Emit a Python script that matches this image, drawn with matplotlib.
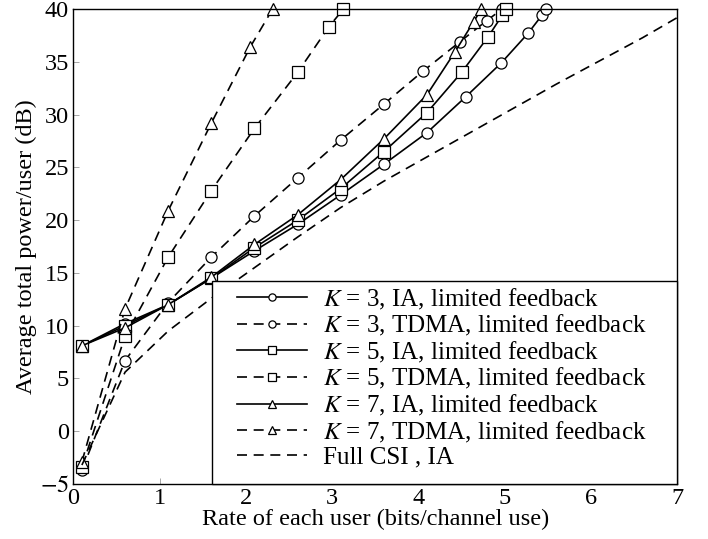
import matplotlib.pyplot as plt
from matplotlib.patches import Rectangle

plt.rcParams['font.family'] = ['Liberation Serif', 'DejaVu Serif']
plt.rcParams['mathtext.fontset'] = 'stix'

# IA with limited feedback
k3_ia_x = [0.1, 0.6, 1.1, 1.6, 2.1, 2.6, 3.1, 3.6, 4.1, 4.55, 4.96, 5.27, 5.43, 5.48]
k3_ia_y = [8.1, 10.2, 12.0, 14.5, 17.1, 19.6, 22.4, 25.3, 28.3, 31.7, 34.9, 37.7, 39.4, 40.0]
k5_ia_x = [0.1, 0.6, 1.1, 1.6, 2.1, 2.6, 3.1, 3.6, 4.1, 4.5, 4.81, 4.97, 5.01]
k5_ia_y = [8.1, 10.0, 12.0, 14.5, 17.4, 20.0, 23.0, 26.5, 30.2, 34.0, 37.4, 39.4, 40.0]
k7_ia_x = [0.1, 0.6, 1.1, 1.6, 2.1, 2.6, 3.1, 3.6, 4.1, 4.42, 4.64, 4.73]
k7_ia_y = [8.1, 9.8, 12.0, 14.6, 17.7, 20.5, 23.85, 27.7, 31.9, 35.9, 38.8, 40.0]

# TDMA with limited feedback
k3_tdma_x = [0.1, 0.6, 1.1, 1.6, 2.1, 2.6, 3.1, 3.6, 4.05, 4.48, 4.79, 4.97]
k3_tdma_y = [-3.7, 6.7, 12.2, 16.5, 20.4, 24.0, 27.6, 31.0, 34.1, 36.9, 38.9, 40.0]
k5_tdma_x = [0.1, 0.6, 1.1, 1.6, 2.1, 2.6, 2.96, 3.13]
k5_tdma_y = [-3.4, 9.0, 16.5, 22.8, 28.7, 34.0, 38.3, 40.0]
k7_tdma_x = [0.1, 0.6, 1.1, 1.6, 2.05, 2.31]
k7_tdma_y = [-2.9, 11.6, 20.9, 29.2, 36.4, 40.0]

# full CSI, IA
full_x = [0.1, 0.6, 1.1, 1.6, 2.1, 2.6, 3.1, 3.6, 4.1, 4.6, 5.1, 5.6, 6.1, 6.6, 7.0]
full_y = [-3.2, 5.6, 9.5, 12.6, 15.5, 18.4, 21.2, 23.7, 26.0, 28.3, 30.6, 32.9, 35.1, 37.3, 39.2]

fs = 17.5
leg_fs = 18

fig = plt.figure(figsize=(7.08, 5.39), dpi=100)
ax = fig.add_axes([0.1035, 0.102, 0.853, 0.881])

dash = (0, (6, 4))
mk = dict(color='black', lw=1.2, markersize=8, markerfacecolor='white',
          markeredgecolor='black', markeredgewidth=0.9, clip_on=False)

ax.plot(k3_ia_x, k3_ia_y, marker='o', ls='-', label='$K$ = 3, IA, limited feedback', **mk)
ax.plot(k3_tdma_x, k3_tdma_y, marker='o', ls=dash, label='$K$ = 3, TDMA, limited feedback', **mk)
ax.plot(k5_ia_x, k5_ia_y, marker='s', ls='-', label='$K$ = 5, IA, limited feedback', **mk)
ax.plot(k5_tdma_x, k5_tdma_y, marker='s', ls=dash, label='$K$ = 5, TDMA, limited feedback', **mk)
ax.plot(k7_ia_x, k7_ia_y, marker='^', ls='-', label='$K$ = 7, IA, limited feedback', **mk)
ax.plot(k7_tdma_x, k7_tdma_y, marker='^', ls=dash, label='$K$ = 7, TDMA, limited feedback', **mk)
ax.plot(full_x, full_y, ls=dash, color='black', lw=1.2, label='Full CSI , IA')

ax.set_xlim(0, 7)
ax.set_ylim(-5, 40)
ax.set_xticks(range(0, 8))
ax.set_yticks(range(-5, 41, 5))
ax.set_yticklabels(['$-5$'] + [str(v) for v in range(0, 41, 5)])
ax.tick_params(direction='in', length=4, width=0.6, color='#999999', labelsize=fs,
               top=False, right=False, pad=3)
for s in ax.spines.values():
    s.set_linewidth(1.0)

ax.set_xlabel('Rate of each user (bits/channel use)', fontsize=fs, labelpad=0)
ax.set_ylabel('Average total power/user (dB)', fontsize=fs, labelpad=2)

# legend box drawn by hand so the side padding can be wider than the top/bottom
ax.add_patch(Rectangle((0.229, 0.0), 0.771, 0.427, transform=ax.transAxes,
                       facecolor='white', edgecolor='black', lw=1.0, zorder=4.5,
                       clip_on=False))
leg = ax.legend(loc='upper left', bbox_to_anchor=(0.271, 0.416), borderaxespad=0,
                borderpad=0, fontsize=leg_fs, frameon=False,
                handlelength=2.8, markerscale=0.65, labelspacing=0.06,
                handletextpad=0.64)
leg.set_zorder(5)

plt.savefig('out.png', dpi=100)
